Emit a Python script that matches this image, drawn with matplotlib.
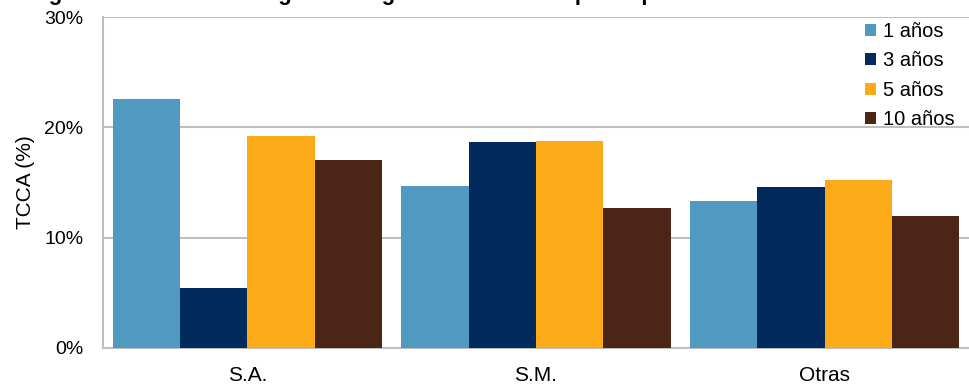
import matplotlib
matplotlib.use("Agg")
import matplotlib.pyplot as plt
import numpy as np

plt.rcParams['font.family'] = ['Liberation Sans', 'DejaVu Sans']

categories = ["S.A.", "S.M.", "Otras"]
series_names = ["1 años", "3 años", "5 años", "10 años"]
v_1 = [22.6, 14.7, 13.3]
v_3 = [5.45, 18.7, 14.55]
v_5 = [19.25, 18.75, 15.2]
v_10 = [17.0, 12.65, 12.0]
colors = ["#5099C1", "#012B5D", "#FDAA19", "#4B2617"]
yticks = [0, 10, 20, 30]
ytick_labels = ["0%", "10%", "20%", "30%"]
title = "Figura 5 TCCA de los ingresos según estructura de participación"

fig = plt.figure(figsize=(9.69, 3.84), dpi=100)
ax = fig.add_axes([103/969, 36/384, 1 - 103/969, (348-17)/384])

x = np.arange(len(categories))
w = 0.233
series = [v_1, v_3, v_5, v_10]
for i, (vals, name, c) in enumerate(zip(series, series_names, colors)):
    ax.bar(x + (i - 1.5) * w, vals, width=w, color=c, label=name, zorder=3)

ax.set_xlim(-0.5, 2.5)
ax.set_ylim(0, 30)
ax.set_yticks(yticks)
ax.set_yticklabels(ytick_labels, fontsize=14)
ax.set_xticks(x)
ax.set_xticklabels(categories, fontsize=15)
ax.tick_params(axis='y', length=0, pad=14)
ax.tick_params(axis='x', length=0, pad=13)
ax.yaxis.grid(True, color="#BFBFBF", linewidth=1.5, zorder=0)
ax.set_axisbelow(True)
for s in ["top", "right"]:
    ax.spines[s].set_visible(False)
for s in ["left", "bottom"]:
    ax.spines[s].set_color("#BFBFBF")
    ax.spines[s].set_linewidth(1.5)
ax.set_ylabel("TCCA (%)", fontsize=15, labelpad=7)

leg = ax.legend(loc="upper right", bbox_to_anchor=(0.999, 1.025), frameon=False,
                fontsize=14.5, handlelength=0.55, handleheight=0.55,
                handletextpad=0.35, labelspacing=0.52, borderaxespad=0.25)

fig.text(0.03, 1.0, title, fontsize=16, fontweight="bold",
         va="baseline", ha="left")

fig.savefig("out.png", dpi=100)
